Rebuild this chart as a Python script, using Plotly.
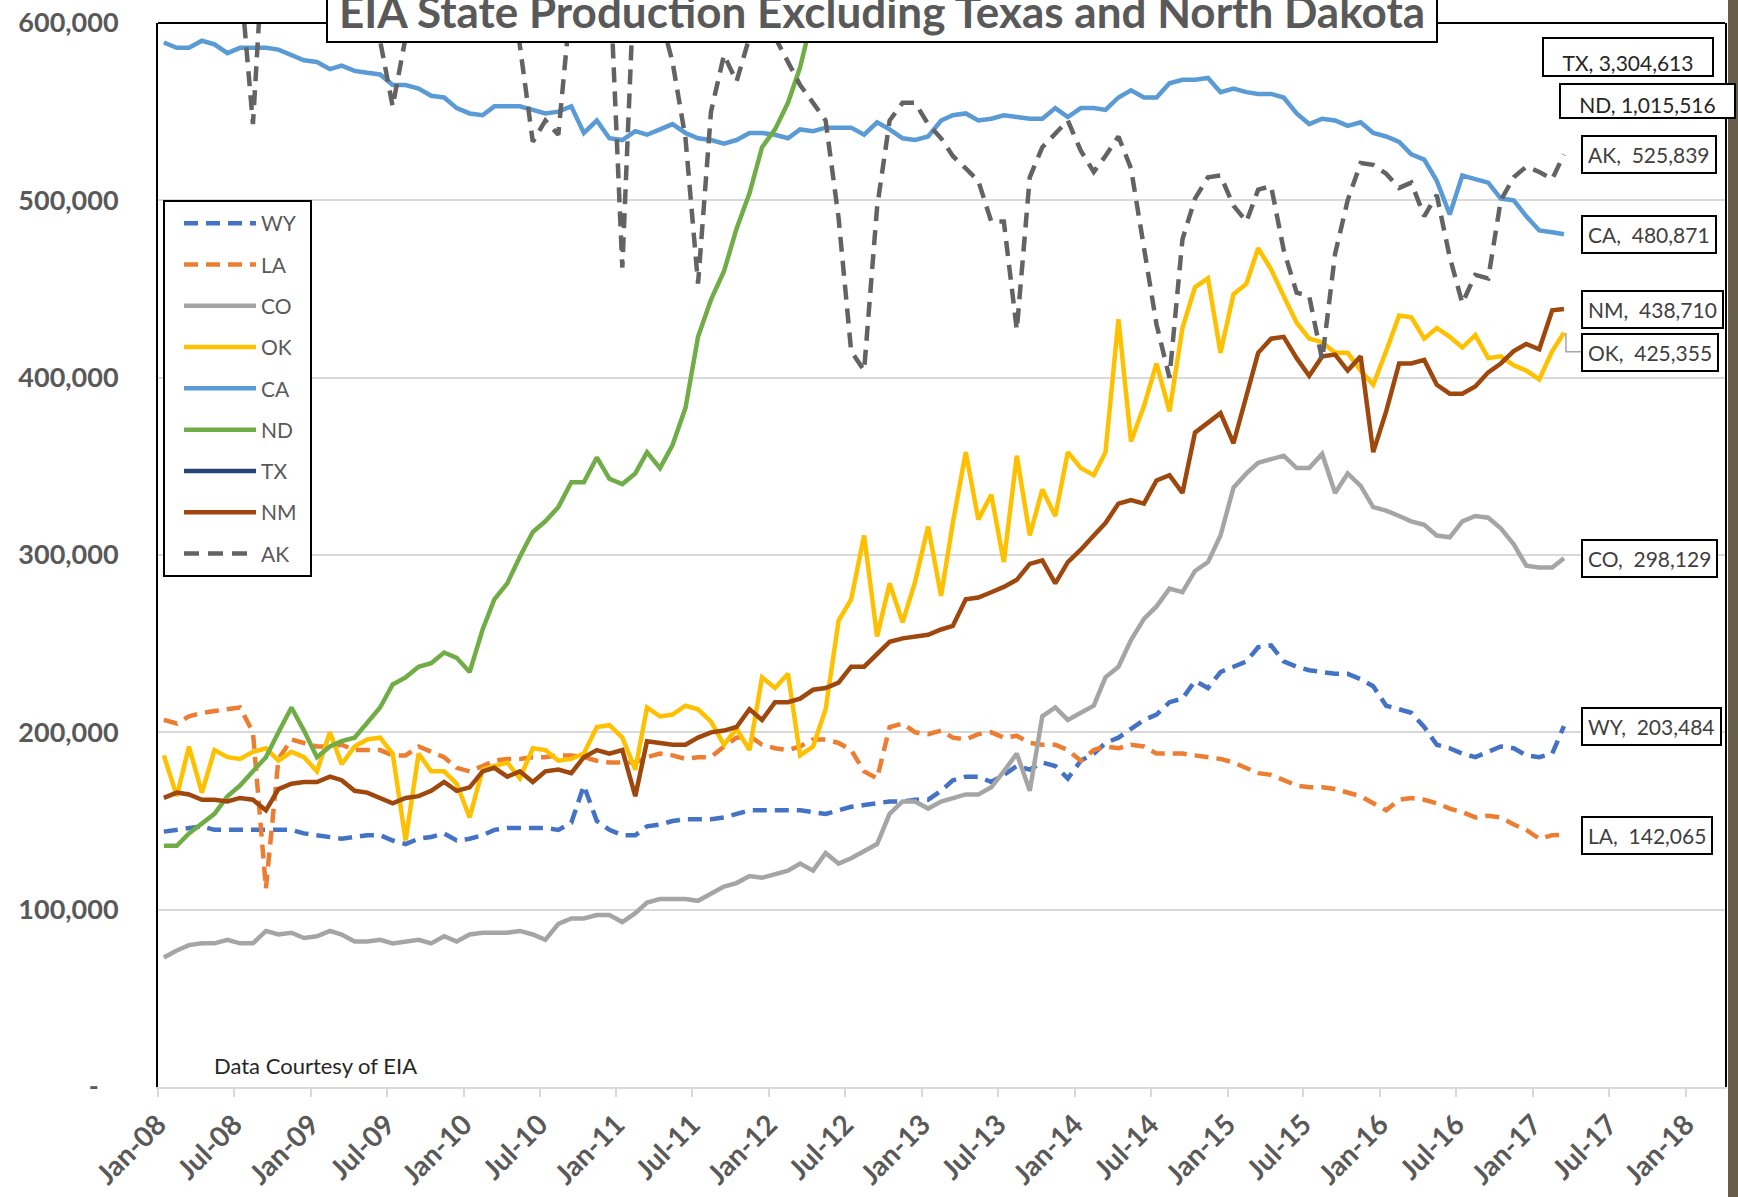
import pandas as pd
import plotly.graph_objects as go

# ---------------- data (thousand barrels per day, monthly Jan-2008 .. Mar-2017) -------------
MONTHS = pd.date_range("2008-01-01", periods=111, freq="MS") + pd.Timedelta(days=14)

WY = [144, 145, 146, 147, 145, 145, 145, 145, 145, 145, 145, 143,
      142, 141, 140, 141, 142, 142, 139, 137, 140, 141, 143, 139,
      140, 142, 145, 146, 146, 146, 146, 145, 149, 170, 150, 145,
      142, 142, 147, 148, 150, 151, 151, 151, 152, 154, 156, 156,
      156, 156, 156, 155, 154, 156, 158, 159, 160, 161, 161, 162,
      162, 167, 173, 175, 175, 172, 176, 181, 179, 183, 181, 174,
      184, 188, 194, 197, 202, 207, 210, 217, 219, 229, 225, 234,
      237, 240, 248, 249, 240, 237, 235, 234, 233, 233, 230, 226,
      215, 213, 211, 203, 193, 191, 188, 186, 189, 192, 191, 187,
      186, 188, 203.484]

LA = [207, 205, 209, 211, 212, 213, 214, 200, 112, 185, 196, 194,
      192, 192, 193, 190, 190, 190, 187, 187, 192, 189, 186, 180,
      178, 181, 184, 185, 185, 186, 186, 187, 187, 186, 184, 183,
      183, 183, 186, 188, 187, 185, 186, 186, 192, 197, 198, 193,
      191, 190, 192, 196, 196, 194, 190, 178, 174, 203, 205, 200,
      199, 201, 197, 196, 199, 200, 197, 198, 194, 193, 193, 190,
      184, 190, 192, 191, 193, 192, 188, 188, 188, 187, 186, 185,
      183, 180, 177, 176, 173, 170, 169, 169, 168, 166, 164, 160,
      156, 162, 163, 162, 160, 157, 155, 152, 153, 152, 148, 145,
      140, 142, 142.065]

CO = [73, 77, 80, 81, 81, 83, 81, 81, 88, 86, 87, 84,
      85, 88, 86, 82, 82, 83, 81, 82, 83, 81, 85, 82,
      86, 87, 87, 87, 88, 86, 83, 92, 95, 95, 97, 97,
      93, 98, 104, 106, 106, 106, 105, 109, 113, 115, 119, 118,
      120, 122, 126, 122, 132, 126, 129, 133, 137, 154, 161, 161,
      157, 161, 163, 165, 165, 169, 178, 188, 167, 209, 214, 207,
      211, 215, 231, 237, 252, 264, 271, 281, 279, 291, 296, 311,
      338, 346, 352, 354, 356, 349, 349, 357, 335, 346, 339, 327,
      325, 322, 319, 317, 311, 310, 319, 322, 321, 315, 306, 294,
      293, 293, 298.129]

OK = [187, 164, 192, 166, 190, 186, 185, 189, 191, 184, 189, 186,
      178, 200, 182, 192, 196, 197, 188, 139, 188, 178, 178, 171,
      152, 179, 181, 183, 174, 191, 190, 184, 185, 188, 203, 204,
      197, 179, 214, 209, 210, 215, 213, 206, 193, 202, 190, 231,
      225, 233, 187, 192, 213, 263, 275, 311, 254, 284, 262, 285,
      316, 277, 318, 358, 320, 334, 296, 356, 311, 337, 322, 358,
      349, 345, 358, 433, 364, 384, 408, 381, 428, 451, 456, 414,
      447, 453, 473, 461, 446, 431, 422, 420, 414, 414, 404, 396,
      415, 435, 434, 422, 428, 423, 417, 424, 411, 412, 407, 404,
      399, 415, 425.355]

CA = [589, 586, 586, 590, 588, 583, 586, 586, 586, 585, 582, 579,
      578, 574, 576, 573, 572, 571, 565, 565, 563, 559, 558, 552,
      549, 548, 553, 553, 553, 551, 549, 550, 553, 538, 545, 535,
      534, 539, 537, 540, 543, 538, 535, 534, 532, 534, 538, 538,
      537, 535, 540, 539, 541, 541, 541, 537, 544, 540, 535, 534,
      536, 545, 548, 549, 545, 546, 548, 547, 546, 546, 552, 547,
      552, 552, 551, 558, 562, 558, 558, 566, 568, 568, 569, 561,
      563, 561, 560, 560, 558, 549, 543, 546, 545, 542, 544, 538,
      536, 533, 526, 523, 511, 492, 514, 512, 510, 501, 500, 491,
      483, 482, 480.871]

ND = [136, 136, 143, 149, 154, 164, 170, 178, 186, 200, 214, 201,
      186, 192, 195, 197, 205, 214, 227, 231, 237, 239, 245, 242,
      234, 258, 275, 284, 299, 313, 319, 327, 341, 341, 355, 343,
      340, 346, 358, 349, 362, 383, 423, 444, 460, 484, 504, 530,
      540, 555, 575, 605, 640, 660, 675, 700, 730, 748, 762, 770,
      740, 768, 782, 795, 810, 825, 860, 875, 870, 930, 935, 900,
      960, 980, 1000, 1025, 1055, 1088, 1110, 1130, 1150, 1180, 1185, 1230,
      1190, 1170, 1195, 1180, 1165, 1200, 1215, 1175, 1175, 1190, 1180, 1165,
      1120, 1125, 1095, 1070, 1040, 1035, 985, 1030, 1040, 1030, 1035, 1025,
      975, 1005, 1015.516]

TX = [1090, 1095, 1100, 1085, 1080, 1090, 1100, 1080, 960, 1050, 1090, 1100,
      1080, 1090, 1085, 1080, 1075, 1090, 1095, 1100, 1090, 1110, 1120, 1115,
      1130, 1140, 1150, 1160, 1170, 1175, 1180, 1190, 1200, 1220, 1240, 1250,
      1260, 1230, 1300, 1330, 1360, 1390, 1420, 1450, 1480, 1520, 1570, 1600,
      1640, 1680, 1720, 1760, 1800, 1850, 1880, 1910, 1960, 2030, 2070, 2110,
      2150, 2200, 2280, 2350, 2420, 2480, 2530, 2580, 2620, 2700, 2750, 2760,
      2820, 2880, 2950, 3000, 3060, 3120, 3150, 3220, 3300, 3370, 3400, 3450,
      3480, 3520, 3560, 3520, 3530, 3500, 3470, 3480, 3440, 3420, 3390, 3400,
      3370, 3330, 3300, 3250, 3220, 3170, 3150, 3100, 3150, 3180, 3200, 3220,
      3210, 3260, 3304.613]

NM = [163, 166, 165, 162, 162, 161, 163, 162, 156, 168, 171, 172,
      172, 175, 173, 167, 166, 163, 160, 163, 164, 167, 172, 167,
      169, 178, 180, 175, 178, 172, 178, 179, 177, 186, 190, 188,
      190, 164, 195, 194, 193, 193, 197, 200, 201, 203, 213, 207,
      217, 217, 219, 224, 225, 228, 237, 237, 244, 251, 253, 254,
      255, 258, 260, 275, 276, 279, 282, 286, 295, 297, 284, 296,
      303, 311, 318, 329, 331, 329, 342, 345, 335, 369, 375, 380,
      363, 389, 414, 422, 423, 411, 401, 412, 413, 404, 412, 358,
      381, 408, 408, 410, 396, 391, 391, 395, 403, 408, 415, 419,
      416, 438, 438.710]

AK = [720, 718, 705, 700, 690, 660, 628, 543, 668, 690, 700, 705,
      710, 705, 695, 680, 640, 590, 553, 592, 650, 680, 690, 695,
      690, 680, 670, 640, 588, 533, 545, 537, 615, 650, 660, 632,
      462, 640, 650, 605, 578, 535, 453, 550, 582, 567, 592, 612,
      592, 578, 565, 555, 545, 490, 415, 404, 496, 545, 555, 555,
      543, 535, 525, 518, 511, 488, 488, 427, 513, 530, 538, 545,
      528, 516, 525, 536, 518, 475, 430, 400, 478, 501, 513, 514,
      497, 488, 506, 508, 472, 448, 446, 410, 470, 500, 521, 520,
      515, 507, 510, 491, 503, 468, 442, 458, 456, 500, 513, 519,
      516, 512, 525.839]

STATES = ["WY", "LA", "CO", "OK", "CA", "ND", "TX", "NM", "AK"]
VALUES = {"WY": WY, "LA": LA, "CO": CO, "OK": OK, "CA": CA,
          "ND": ND, "TX": TX, "NM": NM, "AK": AK}
COLORS = {"WY": "#4472C4", "LA": "#ED7D31", "CO": "#A5A5A5", "OK": "#FFC000",
          "CA": "#5B9BD5", "ND": "#70AD47", "TX": "#264478", "NM": "#9E480E",
          "AK": "#636363"}
DASHES = {"WY": "14px,8px", "LA": "14px,8px", "AK": "15px,9px"}

Y_TICKS = [0, 100000, 200000, 300000, 400000, 500000, 600000]
Y_TICK_TEXT = ["-\u00a0\u00a0\u00a0", "100,000", "200,000", "300,000",
               "400,000", "500,000", "600,000"]

TITLE = "EIA State Production Excluding Texas and North Dakota"
SOURCE = "Data Courtesy of EIA"

FONT = "Lato, 'Open Sans', sans-serif"
GRAY_TXT = "#595959"

# ---------------- figure -------------
W, H = 1738, 1197
ML, MR, MT, MB = 158, 13, 23, 110
PW, PH = W - ML - MR, H - MT - MB


def px_x(px):
    return (px - ML) / PW


def px_y(py):
    return (H - MB - py) / PH


fig = go.Figure()
for s in STATES:
    fig.add_trace(go.Scatter(
        x=MONTHS, y=[v * 1000 for v in VALUES[s]], mode="lines", name=s,
        legendgroup=s,
        line=dict(color=COLORS[s], width=4.5, dash=DASHES.get(s, "solid")),
    ))

annotations = []
# end-of-series labels
for s in ["AK", "CA", "NM", "OK", "CO", "WY", "LA"]:
    last = VALUES[s][-1] * 1000
    annotations.append(dict(
        x=MONTHS[-1], y=last, xref="x", yref="y", xanchor="left", yanchor="middle",
        xshift=17, yshift=-20 if s == "OK" else 0,
        text=f"{s},\u00a0 {int(round(last)):,}", showarrow=False,
        font=dict(family=FONT, size=21, color="#404040"),
        bgcolor="white", bordercolor="black", borderwidth=2, borderpad=5,
    ))
# TX / ND (far above the axis range)
for s, cx, cy, w, h in [("TX", 1628, 57, 168, 36), ("ND", 1647, 101, 173, 32)]:
    last = VALUES[s][-1] * 1000
    annotations.append(dict(
        x=px_x(cx), y=px_y(cy), xref="paper", yref="paper",
        xanchor="center", yanchor="middle", width=w, height=h, valign="bottom",
        text=f"{s}, {int(round(last)):,}", showarrow=False,
        font=dict(family=FONT, size=21, color="#262626"),
        bgcolor="white", bordercolor="black", borderwidth=2, borderpad=0,
    ))
# title box
annotations.append(dict(
    x=px_x(882), y=px_y(43), xref="paper", yref="paper", xanchor="center",
    yanchor="bottom", text=f"<b>{TITLE}</b>", showarrow=False,
    font=dict(family=FONT, size=44, color=GRAY_TXT), width=1100, borderpad=4,
    bgcolor="white", bordercolor="black", borderwidth=2,
))
# source note
annotations.append(dict(
    x=px_x(212), y=px_y(1065), xref="paper", yref="paper", xanchor="left",
    yanchor="middle", text=SOURCE, showarrow=False,
    font=dict(family=FONT, size=22, color="#262626"),
))

shapes = [
    # top border of plot area
    dict(type="line", xref="paper", yref="paper", x0=0, x1=1, y0=1, y1=1,
         line=dict(color="black", width=2)),
    # legend frame
    dict(type="rect", xref="paper", yref="paper", x0=px_x(164), x1=px_x(311),
         y0=px_y(576), y1=px_y(201), fillcolor="white",
         line=dict(color="black", width=2), layer="above"),
    # leader line for OK label
    dict(type="path", xref="x", yref="y", xsizemode="pixel", ysizemode="pixel",
         xanchor=MONTHS[-1], yanchor=OK[-1] * 1000,
         path="M 2 0 L 2 -19 L 17 -19", line=dict(color="#A5A5A5", width=1.5)),
    # slide edge strip on the right
    dict(type="rect", xref="paper", yref="paper", x0=px_x(1728), x1=px_x(1740),
         y0=px_y(1200), y1=px_y(-3), fillcolor="#665d48", line=dict(width=0),
         layer="above"),
]

fig.update_layout(
    width=W, height=H,
    margin=dict(l=ML, r=MR, t=MT, b=MB),
    paper_bgcolor="white", plot_bgcolor="white",
    font=dict(family=FONT, color=GRAY_TXT),
    showlegend=True,
    legend=dict(
        x=px_x(179), y=px_y(203), xanchor="left", yanchor="top",
        bgcolor="rgba(0,0,0,0)", borderwidth=0,
        font=dict(family=FONT, size=21, color=GRAY_TXT),
        itemwidth=72, tracegroupgap=11, traceorder="grouped",
    ),
    xaxis=dict(
        type="date", range=["2008-01-01", "2018-04-04"], automargin=False,
        tick0="2008-01-01", dtick="M6", tickformat="%b-%y", tickangle=-45,
        tickfont=dict(family=FONT, size=28, color=GRAY_TXT, weight="bold"),
        showgrid=False, zeroline=False,
        showline=True, linecolor="#d9d9d9", linewidth=2,
        ticks="outside", ticklen=8, tickcolor="#d9d9d9", tickwidth=2,
        ticklabelstandoff=0,
    ),
    yaxis=dict(
        range=[0, 600000], tickvals=Y_TICKS, ticktext=Y_TICK_TEXT, automargin=False,
        tickfont=dict(family=FONT, size=27, color=GRAY_TXT, weight="bold"),
        showgrid=True, gridcolor="#d9d9d9", gridwidth=2, zeroline=False,
        showline=True, linecolor="black", linewidth=2, mirror=True,
        ticks="", ticklabelstandoff=32,
    ),
    annotations=annotations,
    shapes=shapes,
)

fig.write_html("out.html", config={"displayModeBar": False},
               post_script="document.body.style.margin='0px';")
